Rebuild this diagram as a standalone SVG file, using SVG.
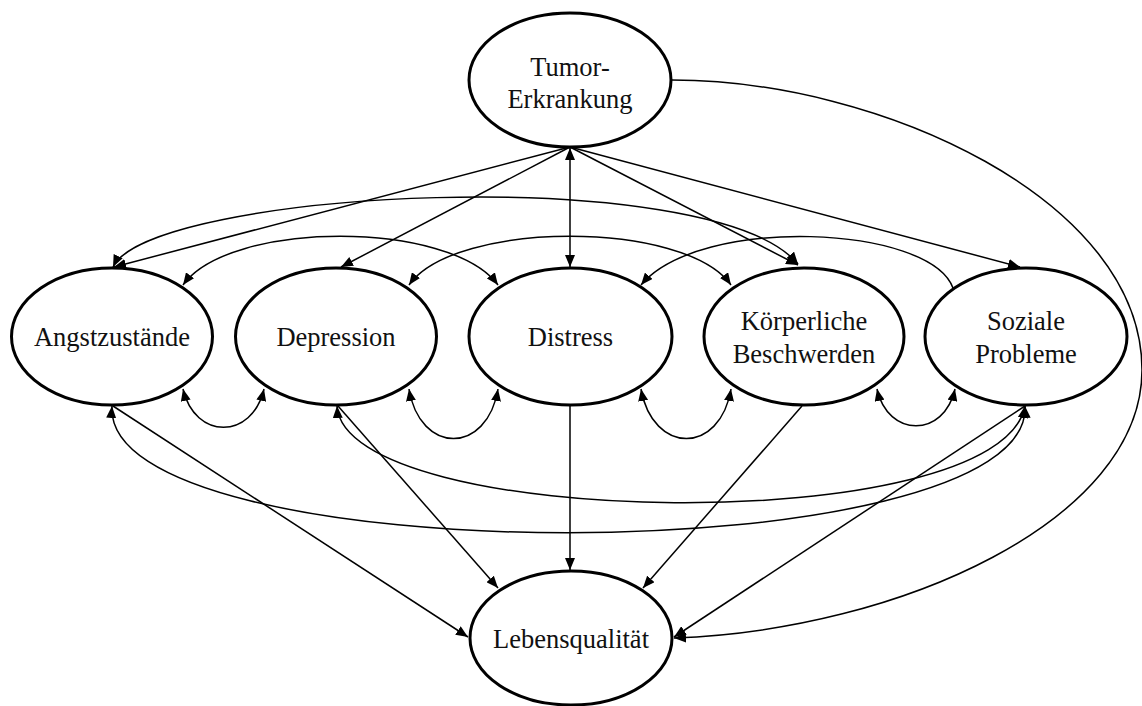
<svg xmlns="http://www.w3.org/2000/svg" width="1142" height="706" viewBox="0 0 1142 706">
<style>
.node ellipse{fill:#fff;stroke:#000;stroke-width:3}
.node text{font-family:"Liberation Serif","Times New Roman",serif;font-size:26.5px;fill:#111;text-anchor:middle}
#connectors path{fill:none;stroke:#000;stroke-width:1.5}
.one{marker-end:url(#ah)}
.two{marker-start:url(#ah);marker-end:url(#ah)}
</style>
<defs>
<marker id="ah" viewBox="0 0 12 10" refX="12" refY="5" markerWidth="12" markerHeight="10" markerUnits="userSpaceOnUse" orient="auto-start-reverse"><path d="M0,0 L12,5 L0,10 z" fill="#000"/></marker>
</defs>
<rect width="1142" height="706" fill="#fff"/>
<g id="connectors">
<path class="one" d="M570,147 L114,267"/>
<path class="one" d="M570,147 L341,267"/>
<path class="two" d="M570,148 L570,267"/>
<path class="one" d="M570,147 L798,265"/>
<path class="one" d="M570,147 L1020,267"/>
<path class="one" d="M672,80 C880,80 1142,200 1142,370 C1142,520 900,630 674,638"/>
<path class="two" d="M113,267 C150,190 710,160 798,264"/>
<path class="two" d="M183,285 C230,220 450,220 498,285"/>
<path class="two" d="M409,285 C455,220 685,220 731,285"/>
<path class="one" d="M953,288 C930,225 700,215 641,285"/>
<path class="two" d="M183,389 C195,440 252,440 264,389"/>
<path class="two" d="M409,389 C420,455 487,455 498,389"/>
<path class="two" d="M641,389 C653,455 720,455 731,389"/>
<path class="two" d="M877,389 C888,438 944,438 955,389"/>
<path class="two" d="M112,406 C100,575 1034,575 1025,406"/>
<path class="two" d="M337,406 C345,530 1000,540 1025,406"/>
<path class="one" d="M113,406 L468,637"/>
<path class="one" d="M338,406 L498,588"/>
<path class="one" d="M570,406 L570,570"/>
<path class="one" d="M802,406 L643,588"/>
<path class="one" d="M1025,406 L674,637"/>
</g>
<g id="tumor" class="node"><ellipse cx="570" cy="80" rx="101" ry="67"/><text x="570" y="76">Tumor-</text><text x="570" y="108">Erkrankung</text></g>
<g id="angst" class="node"><ellipse cx="112" cy="336.5" rx="100.5" ry="68.5"/><text x="112" y="346">Angstzustände</text></g>
<g id="depression" class="node"><ellipse cx="336" cy="336.5" rx="100.5" ry="68.5"/><text x="336" y="346">Depression</text></g>
<g id="distress" class="node"><ellipse cx="570.5" cy="336.5" rx="101.5" ry="68.5"/><text x="570.5" y="346">Distress</text></g>
<g id="koerper" class="node"><ellipse cx="804" cy="336.5" rx="100" ry="68.5"/><text x="804" y="330">Körperliche</text><text x="804" y="363">Beschwerden</text></g>
<g id="soziale" class="node"><ellipse cx="1026" cy="336.5" rx="101" ry="68.5"/><text x="1026" y="330">Soziale</text><text x="1026" y="363">Probleme</text></g>
<g id="lebensqualitaet" class="node"><ellipse cx="571" cy="638" rx="101" ry="67"/><text x="571" y="648">Lebensqualität</text></g>
</svg>
